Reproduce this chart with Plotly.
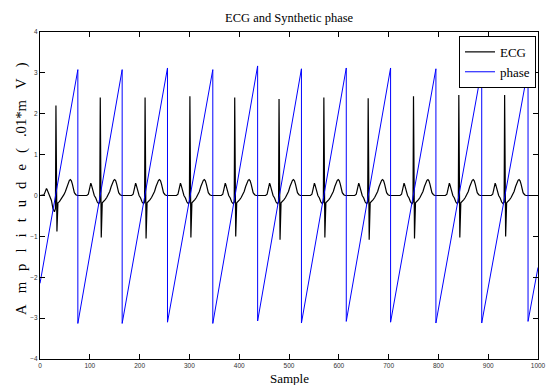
import plotly.graph_objects as go

# ---- data ----
# ECG beats: R-peak sample positions and amplitudes
r_pos = [32, 121, 211, 301, 391, 480, 570, 659, 750, 841, 933]
r_amp = [2.20, 2.40, 2.40, 2.43, 2.40, 2.36, 2.40, 2.38, 2.43, 2.46, 2.46]
s_amp = [-0.88, -1.03, -1.05, -1.03, -1.00, -1.08, -1.03, -1.08, -1.05, -1.03, -1.00]
p_amp = [0.17, 0.30, 0.30, 0.30, 0.30, 0.30, 0.30, 0.30, 0.30, 0.30, 0.30]
q_amp = [-0.40, -0.20, -0.20, -0.20, -0.20, -0.20, -0.20, -0.20, -0.20, -0.20, -0.20]

# beat shape read from one beat: offsets from R (samples)
p_off = [-27, -24, -22, -20, -19, -18, -16, -14, -12]
p_shape = [0.0, 0.1, 0.45, 0.85, 1.0, 0.9, 0.5, 0.15, 0.0]
q_off = [-9, -6, -3, -1]
q_shape = [0.3, 0.8, 1.0, 0.8]
st_off = [4, 7, 10, 13, 16, 19, 22, 25, 27, 29, 31, 33, 35, 37, 40, 43]
st_val = [-0.18, -0.15, -0.10, -0.05, 0.02, 0.10, 0.22, 0.32, 0.37, 0.39, 0.36, 0.28, 0.16, 0.07, 0.02, 0.0]
s_off = 2
ecg_start = [(0, 0.0)]
ecg_end = [(1000, 0.0)]

# Synthetic phase: wrap positions with the values just before / after each wrap
phase_start = (0, -2.15)
wrap_x = [76, 165, 256, 347, 437, 525, 615, 704, 795, 887, 980]
wrap_top = [3.08, 3.08, 3.12, 3.08, 3.17, 3.10, 3.12, 3.12, 3.10, 3.10, 3.10]
wrap_bottom = [-3.13, -3.13, -3.10, -3.13, -3.07, -3.12, -3.08, -3.10, -3.12, -3.12, -3.08]
phase_end = (1000, -1.76)

x_ticks = [0, 100, 200, 300, 400, 500, 600, 700, 800, 900, 1000]
y_ticks = [-4, -3, -2, -1, 0, 1, 2, 3, 4]

# ---- assemble traces ----
ecg_x, ecg_y = [], []
for x0, y0 in ecg_start:
    ecg_x.append(x0); ecg_y.append(y0)
for r, ra, sa, pa, qa in zip(r_pos, r_amp, s_amp, p_amp, q_amp):
    for o, v in zip(p_off, p_shape):
        ecg_x.append(r + o); ecg_y.append(pa * v)
    for o, v in zip(q_off, q_shape):
        ecg_x.append(r + o); ecg_y.append(qa * v)
    ecg_x.append(r); ecg_y.append(ra)
    ecg_x.append(r + s_off); ecg_y.append(sa)
    for o, v in zip(st_off, st_val):
        ecg_x.append(r + o); ecg_y.append(v)
for x0, y0 in ecg_end:
    ecg_x.append(x0); ecg_y.append(y0)

ph_x = [phase_start[0]]
ph_y = [phase_start[1]]
for wx, wt, wb in zip(wrap_x, wrap_top, wrap_bottom):
    ph_x += [wx, wx]
    ph_y += [wt, wb]
ph_x.append(phase_end[0]); ph_y.append(phase_end[1])

fig = go.Figure()
fig.add_trace(go.Scatter(x=ecg_x, y=ecg_y, mode="lines", name="ECG",
                         line=dict(color="black", width=1.2)))
fig.add_trace(go.Scatter(x=ph_x, y=ph_y, mode="lines", name="phase",
                         line=dict(color="#0000ff", width=1)))

serif = "Liberation Serif, Times New Roman, serif"
tickfont = dict(family="Liberation Sans, Arial, sans-serif", size=6.5, color="#333333")

axis_common = dict(showgrid=False, zeroline=False, showline=True, linecolor="black",
                   linewidth=1.3, mirror="ticks", ticks="inside", ticklen=5,
                   tickcolor="black", tickwidth=1, tickfont=tickfont,
                   ticklabeloverflow="allow")

fig.update_layout(
    width=553, height=385,
    margin=dict(l=40, r=7, t=32, b=26),
    paper_bgcolor="white", plot_bgcolor="white",
    xaxis=dict(range=[0, 1000], tickvals=x_ticks, **axis_common),
    yaxis=dict(range=[-4, 4], tickvals=y_ticks, **axis_common),
    showlegend=True,
    legend=dict(x=0.996, y=0.988, xanchor="right", yanchor="top",
                bgcolor="white", bordercolor="black", borderwidth=1,
                font=dict(family=serif, size=13, color="black"),
                itemwidth=30, tracegroupgap=0),
    annotations=[
        dict(text="ECG and Synthetic phase", xref="paper", yref="paper",
             x=0.5, y=1, yshift=14, xanchor="center", yanchor="middle",
             showarrow=False, font=dict(family=serif, size=12.5, color="black")),
        dict(text="Sample", xref="paper", yref="paper",
             x=0.5, y=0, yshift=-19, xanchor="center", yanchor="middle",
             showarrow=False, font=dict(family=serif, size=13, color="black")),
        dict(text="\u00a0\u00a0\u00a0".join(["A", "m", "p", "l", "i", "t", "u", "d", "e", "(", ".01*m", "V", ")"]),
             xref="paper", yref="paper", x=0, xshift=-18, y=0.52,
             xanchor="center", yanchor="middle", textangle=-90,
             showarrow=False, font=dict(family=serif, size=14.7, color="black")),
    ],
)

fig.write_html("out.html", config={"displayModeBar": False},
               post_script="document.body.style.margin='0';document.body.style.overflow='hidden';")
